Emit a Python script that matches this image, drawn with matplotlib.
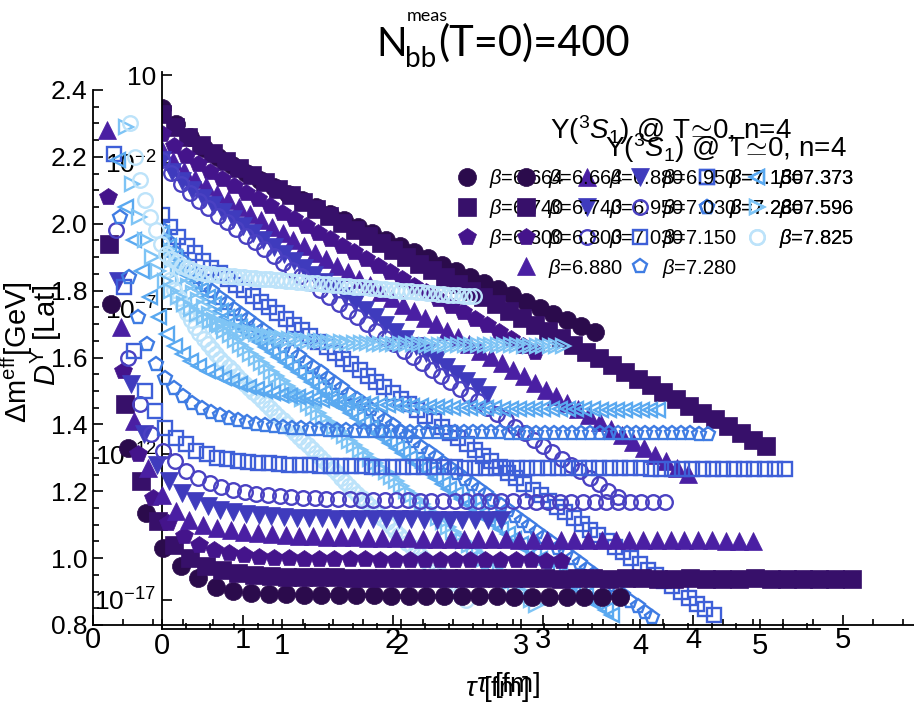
import numpy as np
import matplotlib
matplotlib.use('Agg')
import matplotlib.pyplot as plt
from matplotlib.ticker import FixedLocator, FixedFormatter, MultipleLocator

plt.rcParams['font.family'] = ['Liberation Sans', 'DejaVu Sans']
plt.rcParams['mathtext.fontset'] = 'custom'
plt.rcParams['mathtext.rm'] = 'Liberation Sans'
plt.rcParams['mathtext.it'] = 'Liberation Sans:italic'
plt.rcParams['mathtext.bf'] = 'Liberation Sans:bold'

# ---- data ----
betas = ['6.664', '6.740', '6.800', '6.880', '6.950', '7.030',
         '7.150', '7.280', '7.373', '7.596', '7.825']
a_fm = [0.117, 0.1076, 0.1006, 0.0917, 0.0849, 0.0778,
        0.0689, 0.0603, 0.0546, 0.0435, 0.0348]

# effective mass Delta m_eff [GeV], first visible time slice n_first
n_first = [1, 1, 1, 1, 2, 2, 2, 3, 3, 5, 7]

meff_6664 = [1.76, 1.33, 1.135, 1.03, 0.975, 0.94, 0.915, 0.902, 0.896, 0.893,
             0.892, 0.891, 0.890, 0.890, 0.889, 0.889, 0.888, 0.888, 0.887, 0.887,
             0.886, 0.886, 0.886, 0.885, 0.885, 0.885, 0.884, 0.884, 0.884, 0.883]
meff_6740 = [1.94, 1.46, 1.23, 1.11, 1.04, 1.00, 0.977, 0.963, 0.955, 0.950,
             0.947, 0.945, 0.944, 0.943, 0.943, 0.942, 0.942, 0.942, 0.941, 0.941,
             0.941, 0.941, 0.941, 0.940, 0.941, 0.940, 0.940, 0.940, 0.939, 0.940,
             0.940, 0.939, 0.940, 0.940, 0.939, 0.939, 0.940, 0.939, 0.939, 0.939,
             0.940, 0.939, 0.939, 0.938, 0.939, 0.939, 0.938]
meff_6800 = [2.08, 1.56, 1.31, 1.18, 1.105, 1.065, 1.04, 1.025, 1.015, 1.008,
             1.004, 1.001, 0.999, 0.998, 0.997, 0.997, 0.996, 0.996, 0.995, 0.995,
             0.995, 0.994, 0.994, 0.994, 0.994, 0.993, 0.993, 0.993, 0.993, 0.992,
             0.992]
meff_6880 = [2.28, 1.69, 1.41, 1.27, 1.19, 1.14, 1.115, 1.100, 1.090, 1.083,
             1.078, 1.074, 1.071, 1.069, 1.067, 1.065, 1.064, 1.063, 1.062, 1.061,
             1.060, 1.059, 1.059, 1.058, 1.058, 1.057, 1.057, 1.056, 1.056, 1.056,
             1.055, 1.055, 1.055, 1.055, 1.054, 1.054, 1.054, 1.054, 1.054, 1.053,
             1.053, 1.053, 1.053, 1.053, 1.053, 1.052, 1.052, 1.052]
meff_6950 = [1.83, 1.52, 1.37, 1.28, 1.23, 1.195, 1.170, 1.155, 1.145,
             1.138, 1.132, 1.128, 1.125, 1.123, 1.121, 1.120, 1.119, 1.118, 1.118,
             1.117, 1.117, 1.116, 1.116, 1.116, 1.115, 1.115, 1.115, 1.115, 1.114,
             1.114, 1.114]
meff_7030 = [1.98, 1.60, 1.46, 1.37, 1.32, 1.29, 1.26, 1.24, 1.225, 1.212,
             1.204, 1.198, 1.193, 1.189, 1.186, 1.183, 1.181, 1.179, 1.178, 1.177,
             1.176, 1.175, 1.174, 1.174, 1.173, 1.173, 1.172, 1.172, 1.172, 1.171,
             1.171, 1.171, 1.170, 1.170, 1.170, 1.170, 1.169, 1.169, 1.169, 1.169,
             1.169, 1.168, 1.168, 1.168, 1.168, 1.168, 1.167, 1.167]
meff_7150 = [2.21, 1.81, 1.62, 1.50, 1.44, 1.39, 1.36, 1.34, 1.32, 1.31,
             1.300, 1.295, 1.290, 1.287, 1.285, 1.283, 1.281, 1.280, 1.279, 1.278,
             1.277, 1.276, 1.276, 1.275, 1.275, 1.274, 1.274, 1.273, 1.273, 1.273,
             1.272, 1.272, 1.272, 1.272, 1.271, 1.271, 1.271, 1.271, 1.271, 1.270,
             1.270, 1.270, 1.270, 1.270, 1.270, 1.269, 1.269, 1.269, 1.269, 1.269,
             1.269, 1.269, 1.268, 1.268, 1.268, 1.268, 1.268, 1.268, 1.268, 1.268,
             1.267, 1.267, 1.267, 1.267, 1.267, 1.267]
meff_7280 = [2.02, 1.84, 1.72, 1.64, 1.58, 1.54, 1.51, 1.485, 1.465, 1.450,
             1.438, 1.428, 1.420, 1.413, 1.407, 1.402, 1.398, 1.395, 1.392, 1.390,
             1.388, 1.386, 1.385, 1.384, 1.383, 1.382, 1.381, 1.380, 1.380, 1.379,
             1.379, 1.378, 1.378, 1.378, 1.377, 1.377, 1.377, 1.377, 1.376, 1.376,
             1.376, 1.376, 1.376, 1.375, 1.375, 1.375, 1.375, 1.375, 1.375, 1.374,
             1.374, 1.374, 1.374, 1.374, 1.374, 1.374, 1.373, 1.373, 1.373, 1.373,
             1.373, 1.373, 1.373, 1.373, 1.372, 1.372]
meff_7373 = [2.19, 2.05, 1.95, 1.86, 1.78, 1.72, 1.67, 1.635, 1.610, 1.590,
             1.575, 1.560, 1.550, 1.540, 1.530, 1.520, 1.512, 1.505, 1.499, 1.494,
             1.489, 1.485, 1.481, 1.478, 1.475, 1.472, 1.470, 1.468, 1.466, 1.464,
             1.462, 1.460, 1.459, 1.458, 1.457, 1.456, 1.455, 1.454, 1.453, 1.452,
             1.451, 1.450, 1.450, 1.449, 1.449, 1.448, 1.448, 1.447, 1.447, 1.447,
             1.446, 1.446, 1.446, 1.446, 1.445, 1.445, 1.445, 1.445, 1.445, 1.444,
             1.444, 1.444, 1.444, 1.444, 1.444, 1.443, 1.443]
meff_7596 = [2.29, 2.12, 2.02, 1.95, 1.90, 1.86, 1.83, 1.80, 1.78, 1.76,
             1.745, 1.730, 1.720, 1.710, 1.700, 1.695, 1.690, 1.685, 1.680, 1.675,
             1.670, 1.667, 1.664, 1.661, 1.658, 1.656, 1.654, 1.652, 1.650, 1.649,
             1.648, 1.647, 1.646, 1.645, 1.644, 1.643, 1.642, 1.642, 1.641, 1.641,
             1.640, 1.640, 1.640, 1.639, 1.639, 1.639, 1.638, 1.638, 1.638, 1.638,
             1.637, 1.637, 1.637, 1.637, 1.637, 1.636, 1.636, 1.636, 1.636, 1.636,
             1.636, 1.635, 1.635, 1.635, 1.635, 1.635, 1.635, 1.635]
meff_7825 = [2.30, 2.20, 2.13, 2.07, 2.02, 1.98, 1.94, 1.91, 1.895, 1.885,
             1.875, 1.868, 1.862, 1.857, 1.852, 1.850, 1.849, 1.847, 1.846, 1.845,
             1.843, 1.842, 1.840, 1.839, 1.838, 1.836, 1.835, 1.834, 1.832, 1.831,
             1.830, 1.828, 1.827, 1.826, 1.824, 1.823, 1.822, 1.820, 1.819, 1.818,
             1.816, 1.815, 1.814, 1.812, 1.811, 1.810, 1.808, 1.807, 1.806, 1.804,
             1.803, 1.802, 1.800, 1.799, 1.798, 1.796, 1.795, 1.794, 1.792, 1.791,
             1.790, 1.788, 1.787, 1.786, 1.785, 1.784, 1.783]

# correlator log10 D^Y [lattice units], time slices n = 0, 1, 2, ...
logD_6664 = [-0.10, -0.68, -1.12, -1.48, -1.79, -2.07, -2.33, -2.58, -2.82, -3.06,
             -3.29, -3.52, -3.75, -3.97, -4.19, -4.41, -4.63, -4.85, -5.06, -5.27,
             -5.49, -5.70, -5.91, -6.12, -6.34, -6.55, -6.76, -6.97, -7.18, -7.39,
             -7.61, -7.82]
logD_6740 = [-0.32, -0.77, -1.11, -1.40, -1.67, -1.93, -2.17, -2.41, -2.64, -2.88,
             -3.11, -3.35, -3.58, -3.82, -4.05, -4.29, -4.52, -4.76, -4.99, -5.22,
             -5.46, -5.69, -5.92, -6.15, -6.39, -6.62, -6.85, -7.08, -7.32, -7.55,
             -7.78, -8.01, -8.25, -8.48, -8.71, -8.94, -9.18, -9.41, -9.64, -9.87,
             -10.11, -10.34, -10.57, -10.80, -11.04, -11.27, -11.50, -11.73]
logD_6800 = [-1.00, -1.42, -1.75, -2.04, -2.31, -2.56, -2.80, -3.02, -3.25, -3.48,
             -3.71, -3.93, -4.16, -4.39, -4.62, -4.85, -5.07, -5.30, -5.53, -5.76,
             -5.99, -6.21, -6.44, -6.67, -6.90, -7.13, -7.35, -7.58, -7.81, -8.04,
             -8.27, -8.49]
logD_6880 = [-1.55, -1.95, -2.27, -2.55, -2.81, -3.06, -3.29, -3.51, -3.74, -3.96,
             -4.19, -4.41, -4.63, -4.86, -5.08, -5.30, -5.53, -5.75, -5.98, -6.20,
             -6.42, -6.65, -6.87, -7.09, -7.32, -7.54, -7.77, -7.99, -8.21, -8.44,
             -8.66, -8.88, -9.11, -9.33, -9.56, -9.78, -10.00, -10.23, -10.45, -10.67,
             -10.90, -11.12, -11.35, -11.57, -11.79, -12.02, -12.24, -12.46, -12.69]
logD_6950 = [-1.90, -2.30, -2.63, -2.92, -3.19, -3.45, -3.69, -3.93, -4.17, -4.41,
             -4.65, -4.89, -5.14, -5.38, -5.62, -5.86, -6.10, -6.34, -6.58, -6.82,
             -7.06, -7.30, -7.55, -7.79, -8.03, -8.27, -8.51, -8.75, -8.99, -9.23,
             -9.47, -9.71, -9.96]
logD_7030 = [-1.90, -2.35, -2.71, -3.02, -3.30, -3.56, -3.81, -4.04, -4.27, -4.50,
             -4.72, -4.95, -5.19, -5.42, -5.66, -5.89, -6.13, -6.36, -6.60, -6.83,
             -7.07, -7.30, -7.54, -7.77, -8.01, -8.22, -8.44, -8.66, -8.88, -9.10,
             -9.32, -9.53, -9.75, -9.97, -10.19, -10.41, -10.63, -10.84, -11.06, -11.28,
             -11.50, -11.72, -11.94, -12.16, -12.38, -12.59, -12.81, -13.03, -13.25, -13.47]
logD_7150 = [-3.79, -4.21, -4.55, -4.84, -5.11, -5.36, -5.60, -5.79, -5.99, -6.18,
             -6.38, -6.57, -6.77, -6.96, -7.16, -7.35, -7.55, -7.75, -7.94, -8.14,
             -8.33, -8.53, -8.72, -8.92, -9.11, -9.31, -9.51, -9.70, -9.90, -10.09,
             -10.29, -10.48, -10.68, -10.87, -11.07, -11.26, -11.46, -11.66, -11.85, -12.05,
             -12.24, -12.44, -12.63, -12.83, -13.02, -13.22, -13.41, -13.61, -13.81, -14.00,
             -14.20, -14.39, -14.59, -14.78, -14.98, -15.17, -15.37, -15.57, -15.76, -15.96,
             -16.15, -16.35, -16.54, -16.74, -16.93, -17.13, -17.32, -17.52]
logD_7280 = [-4.27, -4.72, -5.08, -5.39, -5.67, -5.93, -6.18, -6.41, -6.64, -6.82,
             -7.00, -7.18, -7.37, -7.55, -7.73, -7.91, -8.10, -8.28, -8.46, -8.64,
             -8.83, -9.01, -9.19, -9.37, -9.55, -9.73, -9.92, -10.10, -10.28, -10.46,
             -10.65, -10.83, -11.01, -11.19, -11.38, -11.56, -11.74, -11.92, -12.11, -12.29,
             -12.47, -12.65, -12.84, -13.02, -13.20, -13.38, -13.57, -13.75, -13.93, -14.11,
             -14.29, -14.48, -14.66, -14.84, -15.02, -15.21, -15.39, -15.57, -15.75, -15.94,
             -16.12, -16.30, -16.48, -16.67, -16.85, -17.03, -17.21, -17.40, -17.58]
logD_7373 = [-4.42, -4.87, -5.24, -5.56, -5.85, -6.12, -6.38, -6.62, -6.85, -7.07,
             -7.28, -7.45, -7.62, -7.80, -7.97, -8.14, -8.32, -8.49, -8.67, -8.84,
             -9.01, -9.19, -9.36, -9.53, -9.71, -9.88, -10.05, -10.23, -10.40, -10.58,
             -10.75, -10.92, -11.10, -11.27, -11.44, -11.62, -11.79, -11.97, -12.14, -12.31,
             -12.49, -12.66, -12.83, -13.01, -13.18, -13.35, -13.53, -13.70, -13.88, -14.05,
             -14.22, -14.40, -14.57, -14.74, -14.92, -15.09, -15.27, -15.44, -15.61, -15.79,
             -15.96, -16.13, -16.31, -16.48, -16.66, -16.83, -17.00, -17.18, -17.35, -17.52]
logD_7596 = [-4.52, -4.97, -5.34, -5.66, -5.95, -6.22, -6.48, -6.72, -6.95, -7.17,
             -7.38, -7.58, -7.77, -7.92, -8.08, -8.24, -8.39, -8.55, -8.71, -8.86,
             -9.02, -9.18, -9.33, -9.49, -9.65, -9.80, -9.96, -10.12, -10.27, -10.43,
             -10.59, -10.74, -10.90, -11.06, -11.21, -11.37, -11.53, -11.68, -11.84, -11.99,
             -12.15, -12.31, -12.46, -12.62, -12.78, -12.93, -13.09, -13.25, -13.40, -13.56,
             -13.72, -13.87, -14.03, -14.19, -14.34, -14.50, -14.66, -14.81, -14.97, -15.13,
             -15.28, -15.44, -15.60, -15.75, -15.91, -16.07, -16.22, -16.38, -16.54, -16.69,
             -16.85, -17.01, -17.16]
logD_7825 = [-5.21, -5.66, -6.03, -6.35, -6.64, -6.91, -7.16, -7.40, -7.62, -7.83,
             -8.03, -8.22, -8.40, -8.57, -8.74, -8.88, -9.02, -9.16, -9.30, -9.44,
             -9.58, -9.72, -9.86, -10.00, -10.14, -10.28, -10.42, -10.56, -10.70, -10.84,
             -10.98, -11.12, -11.26, -11.40, -11.54, -11.68, -11.82, -11.96, -12.10, -12.24,
             -12.38, -12.52, -12.66, -12.80, -12.94, -13.08, -13.22, -13.36, -13.50, -13.64,
             -13.78, -13.92, -14.06, -14.20, -14.34, -14.48, -14.62, -14.76, -14.90, -15.04,
             -15.18, -15.32, -15.46, -15.60, -15.74, -15.88, -16.02, -16.16, -16.30, -16.44,
             -16.58, -16.72, -16.86, -17.00]

meff = [meff_6664, meff_6740, meff_6800, meff_6880, meff_6950, meff_7030,
        meff_7150, meff_7280, meff_7373, meff_7596, meff_7825]
logD = [logD_6664, logD_6740, logD_6800, logD_6880, logD_6950, logD_7030,
        logD_7150, logD_7280, logD_7373, logD_7596, logD_7825]

# ---- styles ----
colors = ['#2b0b4c', '#37106a', '#44148b', '#4a1fa3', '#3f3bbd', '#4a41c2',
          '#3e5fd8', '#3f7ce3', '#5aa9f0', '#7ec4f5', '#bde3fa']
markers = ['o', 's', 'p', '^', 'v', 'o', 's', 'p', '<', '>', 'o']
filled = [True] * 5 + [False] * 6

W, H = 914, 705
fig = plt.figure(figsize=(W / 100, H / 100), dpi=100)


def box(l, t, r, b):
    return [l / W, 1 - b / H, (r - l) / W, (b - t) / H]


def fxy(x, y):
    return x / W, 1 - y / H


axL = fig.add_axes(box(162, 72, 820, 629))
axM = fig.add_axes(box(93, 90, 914, 625))
for ax in (axL, axM):
    ax.patch.set_alpha(0)
    ax.spines['top'].set_visible(False)
    ax.spines['right'].set_visible(False)
    ax.spines['left'].set_linewidth(1.3)
    ax.spines['bottom'].set_linewidth(1.3)


def mstyle(i):
    if filled[i]:
        return dict(marker=markers[i], ms=13, mfc=colors[i], mec=colors[i], mew=0.5)
    return dict(marker=markers[i], ms=10.5, mfc='none', mec=colors[i], mew=1.7)


# correlator panel
hL = []
for i in range(len(betas)):
    tau = a_fm[i] * np.arange(len(logD[i]))
    h, = axL.plot(tau, 10.0 ** np.array(logD[i]), ls='none',
                  label=r'$\beta$=' + betas[i], **mstyle(i))
    hL.append(h)
axL.set_yscale('log')
axL.set_xlim(0, 658 / 119.5)
axL.set_ylim(1e-18, 10 ** 1.12)
axL.yaxis.set_major_locator(FixedLocator([1e1, 1e-2, 1e-7, 1e-12, 1e-17]))
axL.yaxis.set_major_formatter(FixedFormatter(['10', '$10^{-2}$', '$10^{-7}$',
                                              '$10^{-12}$', '$10^{-17}$']))
axL.yaxis.set_minor_locator(FixedLocator([]))
axL.xaxis.set_major_locator(MultipleLocator(1))
axL.xaxis.set_minor_locator(MultipleLocator(0.2))
axL.tick_params(which='both', direction='in', width=1.2)
axL.tick_params(which='major', length=7)
axL.tick_params(which='minor', length=4)
axL.tick_params(axis='x', labelsize=21, pad=2)
axL.tick_params(axis='y', labelsize=19, pad=4)

# effective mass panel
hM = []
for i in range(len(betas)):
    tau = a_fm[i] * (n_first[i] + np.arange(len(meff[i])))
    h, = axM.plot(tau, meff[i], ls='none', label=r'$\beta$=' + betas[i], **mstyle(i))
    hM.append(h)
axM.set_xlim(0, 821 / 150)
axM.set_ylim(0.8, 2.4)
axM.xaxis.set_major_locator(MultipleLocator(1))
axM.xaxis.set_minor_locator(MultipleLocator(0.2))
axM.yaxis.set_major_locator(MultipleLocator(0.2))
axM.yaxis.set_minor_locator(MultipleLocator(0.05))
axM.yaxis.set_major_formatter(matplotlib.ticker.FormatStrFormatter('%.1f'))
axM.tick_params(which='both', direction='in', width=1.2)
axM.tick_params(which='major', length=7)
axM.tick_params(which='minor', length=4)
axM.tick_params(axis='x', labelsize=21, pad=1)
axM.tick_params(axis='y', labelsize=19, pad=4)

# legends, one block per column so the columns sit where the reference has them
leg_kw = dict(loc='upper left', bbox_transform=fig.transFigure, frameon=False,
              fontsize=14.5, handlelength=1.0, handletextpad=0.6,
              labelspacing=0.34, borderpad=0, borderaxespad=0, ncol=1)
cols_M = [(516, hM[0:4]), (630, hM[4:8]), (747, hM[8:11])]
cols_L = [(457, hL[0:3]), (577, hL[3:6]), (697, hL[6:8])]
for ax, cols in ((axM, cols_M), (axL, cols_L)):
    for x0, hs in cols:
        leg = ax.legend(handles=hs, bbox_to_anchor=fxy(x0, 167), **leg_kw)
        ax.add_artist(leg)

title_txt = r'Υ($^{3}S_{1}$) @ T$\!\simeq\!$0, n=4'
fig.text(*fxy(847, 148), title_txt, ha='right', va='center', fontsize=20)
fig.text(*fxy(792, 130), title_txt, ha='right', va='center', fontsize=20)

# title
fig.text(*fxy(376, 56), 'N', fontsize=29, family='Lato', va='baseline')
fig.text(*fxy(405, 67), 'bb', fontsize=20, family='Lato', va='baseline')
fig.text(*fxy(407, 21), 'meas', fontsize=13, family='Lato', va='baseline')
fig.text(*fxy(438, 56), '(T=0)=400', fontsize=30, family='Lato', va='baseline')

# axis labels
fig.text(*fxy(17, 352), r'$\Delta$m$^{\mathrm{eff}}$[GeV]', rotation=90,
         ha='center', va='center', fontsize=21)
fig.text(*fxy(46, 335), r'$D^{\Upsilon}$ [Lat]', rotation=90,
         ha='center', va='center', fontsize=21)
fig.text(*fxy(497, 689), r'$\tau$ [fm]', ha='center', va='center', fontsize=20)
fig.text(*fxy(508, 685), r'$\tau$ [fm]', ha='center', va='center', fontsize=20)

fig.savefig('out.png', dpi=100)
